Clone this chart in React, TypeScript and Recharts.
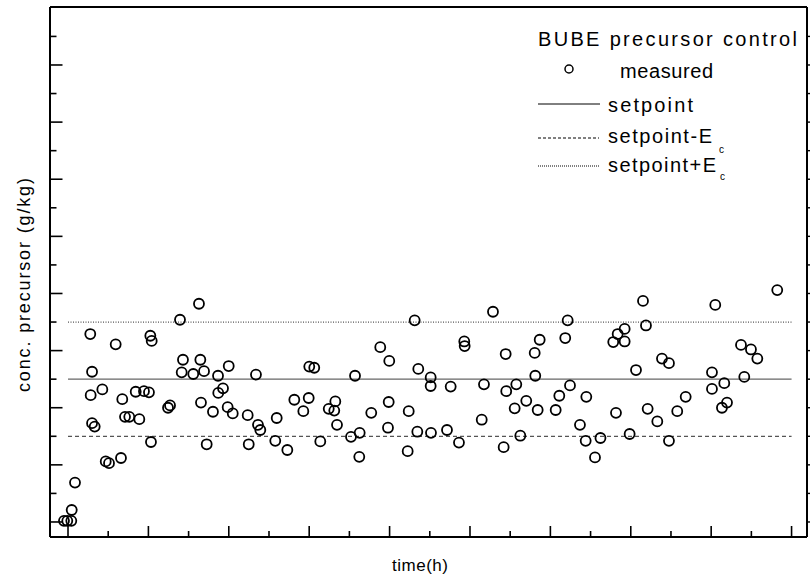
import React from 'react';
import { ScatterChart, Scatter, XAxis, YAxis, ReferenceLine } from 'recharts';

// measured BUBE precursor concentration (g/kg) vs time (h)
const timeH = [
  -0.5, -0.09, 0.41, 0.46, 0.87, 2.77, 2.99, 2.82, 2.99, 3.32, 4.27, 4.69, 5.1, 5.93, 6.59, 6.75, 7.09, 7.62, 8.42, 8.87,
  9.45, 10.07, 10.24, 10.41, 10.32, 12.44, 12.69, 13.93, 14.14, 14.3, 15.58, 16.29, 16.46, 16.54, 16.92, 17.25, 18.03, 18.66, 18.69, 19.28,
  19.86, 19.99, 20.49, 22.35, 22.48, 23.38, 23.63, 23.92, 25.78, 25.96, 27.28, 28.15, 29.27, 29.94, 30.01, 30.63, 31.38, 32.43, 33.12, 33.25,
  33.46, 35.2, 35.7, 36.28, 36.23, 37.72, 38.84, 39.96, 39.89, 39.8, 42.25, 42.38, 43.12, 43.57, 43.45, 45.11, 45.11, 45.15, 47.14, 47.6,
  48.63, 49.29, 49.34, 51.46, 51.74, 52.86, 54.19, 54.44, 54.51, 55.56, 55.76, 56.26, 57.0, 58.05, 58.12, 58.42, 58.67, 60.66, 61.11, 61.85,
  62.15, 62.44, 63.68, 64.39, 64.47, 65.55, 66.23, 68.16, 67.82, 68.37, 69.24, 69.24, 69.86, 70.65, 71.52, 71.89, 72.1, 73.3, 73.88, 74.75,
  74.75, 75.78, 76.83, 80.1, 80.1, 80.51, 81.34, 81.63, 81.97, 83.71, 84.12, 84.95, 85.74, 88.22,
];
const concGkg = [
  0.02, 0.02, 0.02, 0.21, 0.69, 3.29, 2.63, 2.22, 1.73, 1.67, 2.32, 1.06, 1.03, 3.11, 1.12, 2.15, 1.84, 1.84, 2.28, 1.8,
  2.29, 2.27, 3.26, 3.17, 1.4, 2.0, 2.04, 3.54, 2.62, 2.84, 2.59, 3.82, 2.84, 2.09, 2.64, 1.36, 1.93, 2.56, 2.26, 2.34,
  2.01, 2.73, 1.9, 1.87, 1.36, 2.58, 1.7, 1.61, 1.42, 1.82, 1.26, 2.14, 1.94, 2.17, 2.72, 2.7, 1.41, 1.98, 1.95, 2.11,
  1.7, 1.49, 2.56, 1.56, 1.14, 1.91, 3.06, 2.82, 2.1, 1.65, 1.24, 1.94, 3.53, 2.68, 1.58, 2.53, 2.38, 1.56, 1.61, 2.37,
  1.39, 3.16, 3.08, 1.79, 2.41, 3.68, 1.31, 2.94, 2.29, 1.99, 2.41, 1.51, 2.12, 2.96, 2.56, 1.96, 3.19, 1.96, 2.21, 3.22,
  3.53, 2.39, 1.7, 1.42, 2.19, 1.13, 1.47, 1.91, 3.15, 3.29, 3.38, 3.16, 1.54, 2.66, 3.87, 3.44, 1.98, 1.76, 2.86, 2.78,
  1.42, 1.94, 2.19, 2.62, 2.33, 3.8, 2.0, 2.43, 2.09, 3.1, 2.54, 3.02, 2.86, 4.06,
];

const setpoint = 2.5;
const Ec = 1.0;
const lineStart = 0;
const lineEnd = 90;

// ticks every 5 h (major every 10 h), every 0.5 g/kg (major every 1 g/kg)
const xTicks = [0, 5, 10, 15, 20, 25, 30, 35, 40, 45, 50, 55, 60, 65, 70, 75, 80, 85, 90];
const xMajorStep = 10;
const yTicks = [0, 0.5, 1, 1.5, 2, 2.5, 3, 3.5, 4, 4.5, 5, 5.5, 6, 6.5, 7, 7.5, 8, 8.5];
const yMajorStep = 1;

const xDomain: [number, number] = [-2.24, 91.92];
const yDomain: [number, number] = [-0.263, 9.015];

const points = timeH.map((t, i) => ({ t, c: concGkg[i] }));

const FONT = '"Liberation Sans", Arial, sans-serif';
const axisLineStyle = { stroke: '#000', strokeWidth: 2 };

const isMajor = (v: number, step: number) => Math.abs(v / step - Math.round(v / step)) < 1e-6;

const BottomTick = (p: any) => {
  const len = isMajor(p.payload.value, xMajorStep) ? 11 : 6;
  return <line x1={p.x} x2={p.x} y1={p.y} y2={p.y - len} stroke="#000" strokeWidth={1.6} />;
};
const TopTick = (p: any) => <line x1={p.x} x2={p.x} y1={p.y} y2={p.y + 2} stroke="#000" strokeWidth={1.4} />;
const LeftTick = (p: any) => {
  const len = isMajor(p.payload.value, yMajorStep) ? 12.5 : 6.5;
  return <line x1={p.x} x2={p.x + len} y1={p.y} y2={p.y} stroke="#000" strokeWidth={1.6} />;
};
const RightTick = (p: any) => <line x1={p.x} x2={p.x + 3} y1={p.y} y2={p.y} stroke="#000" strokeWidth={1.4} />;

const OpenCircle = (props: any) => {
  const { cx, cy } = props;
  if (cx == null || cy == null) return null;
  return <circle cx={cx} cy={cy} r={5} fill="none" stroke="#000" strokeWidth={1.8} />;
};

export default function App() {
  return (
    <div style={{ position: 'absolute', left: 0, top: 0, width: 810, height: 583, background: '#fff' }}>
      <ScatterChart width={810} height={583} margin={{ top: 6, right: 2, bottom: 45, left: 49 }}>
        <XAxis xAxisId="main" type="number" dataKey="t" domain={xDomain} allowDataOverflow ticks={xTicks}
          interval={0} tick={BottomTick} tickLine={false} tickSize={0} tickMargin={0} height={1} axisLine={axisLineStyle} />
        <XAxis xAxisId="top" orientation="top" type="number" domain={xDomain} allowDataOverflow ticks={xTicks}
          interval={0} tick={TopTick} tickLine={false} tickSize={0} tickMargin={0} height={1} axisLine={axisLineStyle} />
        <YAxis yAxisId="main" type="number" dataKey="c" domain={yDomain} allowDataOverflow ticks={yTicks}
          interval={0} tick={LeftTick} tickLine={false} tickSize={0} tickMargin={0} width={1} axisLine={axisLineStyle} />
        <YAxis yAxisId="right" orientation="right" type="number" domain={yDomain} allowDataOverflow ticks={yTicks}
          interval={0} tick={RightTick} tickLine={false} tickSize={0} tickMargin={0} width={1} axisLine={axisLineStyle} />
        <ReferenceLine xAxisId="main" yAxisId="main" ifOverflow="visible"
          segment={[{ x: lineStart, y: setpoint }, { x: lineEnd, y: setpoint }]} stroke="#666" strokeWidth={1.2} />
        <ReferenceLine xAxisId="main" yAxisId="main" ifOverflow="visible"
          segment={[{ x: lineStart, y: setpoint - Ec }, { x: lineEnd, y: setpoint - Ec }]} stroke="#555" strokeWidth={1.2} strokeDasharray="4 3" />
        <ReferenceLine xAxisId="main" yAxisId="main" ifOverflow="visible"
          segment={[{ x: lineStart, y: setpoint + Ec }, { x: lineEnd, y: setpoint + Ec }]} stroke="#555" strokeWidth={1.2} strokeDasharray="1 1.5" />
        <Scatter xAxisId="main" yAxisId="main" data={points} dataKey="c" isAnimationActive={false} shape={OpenCircle} />
      </ScatterChart>
      <svg width={810} height={583} style={{ position: 'absolute', left: 0, top: 0, pointerEvents: 'none' }}
        fontFamily={FONT} fill="#000">
        <text x={30} y={285} fontSize={18} textAnchor="middle" textLength={214} lengthAdjust="spacing"
          transform="rotate(-90 30 285)">conc. precursor (g/kg)</text>
        <text x={420} y={571} fontSize={17} textAnchor="middle" textLength={56} lengthAdjust="spacing">time(h)</text>

        <text x={538} y={46} fontSize={20} textLength={259} lengthAdjust="spacing">BUBE precursor control</text>
        <circle cx={569} cy={69} r={4} fill="none" stroke="#000" strokeWidth={1.5} />
        <text x={620} y={78} fontSize={20} textLength={93} lengthAdjust="spacing">measured</text>

        <line x1={538} x2={600} y1={104} y2={104} stroke="#000" strokeWidth={1} />
        <text x={608} y={112} fontSize={20} textLength={85} lengthAdjust="spacing">setpoint</text>

        <line x1={538} x2={599} y1={138} y2={138} stroke="#000" strokeWidth={1} strokeDasharray="3 2" />
        <text x={608} y={143} fontSize={20} textLength={104} lengthAdjust="spacing">setpoint-E</text>
        <text x={719} y={153} fontSize={10}>c</text>

        <line x1={538} x2={600} y1={166} y2={166} stroke="#000" strokeWidth={1} strokeDasharray="1 1" />
        <text x={608} y={172} fontSize={20} textLength={108} lengthAdjust="spacing">setpoint+E</text>
        <text x={720} y={180} fontSize={10}>c</text>
      </svg>
    </div>
  );
}
